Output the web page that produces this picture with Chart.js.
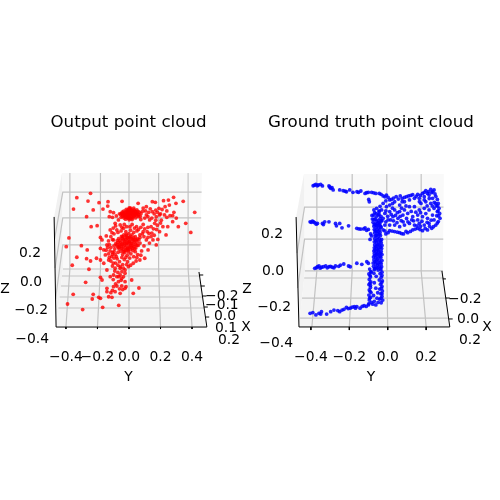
<!DOCTYPE html>
<html><head><meta charset="utf-8">
<script src="https://cdn.jsdelivr.net/npm/chart.js@4"></script>
<style>
html,body{margin:0;padding:0;background:#fff;width:500px;height:500px;overflow:hidden}
canvas{position:absolute;top:0}
</style></head><body>
<canvas id="left" width="257" height="500" style="left:0"></canvas>
<canvas id="right" width="258" height="500" style="left:242px"></canvas>
<script>
const FONT = '"DejaVu Sans", sans-serif';
const outputTitle = 'Output point cloud';
const truthTitle = 'Ground truth point cloud';

// Points: [Y, Z]
const outputSparse = [[-0.331,0.583],[-0.244,0.613],[-0.260,0.559],[-0.190,0.548],[-0.133,0.555],[-0.135,0.524],[-0.352,0.503],[-0.269,0.450],[-0.227,0.497],[-0.165,0.503],[-0.240,0.380],[-0.202,0.387],[-0.381,0.301],[-0.398,0.240],[-0.302,0.247],[-0.265,0.217],[-0.331,0.166],[-0.269,0.156],[-0.244,0.140],[-0.206,0.159],[-0.360,0.110],[-0.254,0.082],[-0.275,-0.009],[-0.354,-0.093],[-0.390,-0.161],[-0.294,-0.200],[-0.167,-0.184],[-0.065,-0.170],[-0.233,-0.126],[-0.227,-0.093],[-0.192,-0.114],[-0.181,0.026],[-0.171,0.007],[-0.181,0.228],[-0.171,0.287],[-0.181,0.305],[-0.144,0.315],[-0.119,0.357],[-0.108,0.338],[-0.088,0.403],[-0.067,0.427],[-0.119,0.485],[-0.098,0.478],[-0.044,0.557],[0.058,0.543],[0.110,0.520],[0.148,0.555],[0.167,0.550],[0.219,0.562],[0.250,0.566],[0.283,0.585],[0.298,0.543],[0.344,0.557],[0.417,0.480],[0.360,0.403],[0.313,0.380],[0.392,0.340],[0.277,0.415],[0.260,0.457],[0.225,0.462],[0.190,0.508],[0.229,0.520],[0.256,0.531],[0.277,0.457],[0.194,0.462],[0.173,0.450],[0.148,0.485],[0.110,0.462],[0.131,0.427],[0.163,0.403],[0.215,0.380],[0.246,0.380],[0.194,0.345],[0.235,0.322],[0.183,0.291],[0.173,0.252],[0.152,0.287],[0.110,0.287],[0.069,0.322],[0.090,0.345],[0.127,0.333],[0.048,0.380],[0.006,0.380],[-0.035,0.368],[-0.056,0.392],[-0.077,0.357],[-0.098,0.287],[-0.140,0.252],[-0.160,0.217],[-0.150,0.182],[-0.129,0.147],[-0.181,0.147],[-0.160,0.124],[-0.140,0.077],[-0.088,0.089],[-0.056,0.089],[-0.025,0.077],[-0.004,0.100],[0.027,0.124],[0.069,0.147],[0.100,0.159],[0.121,0.217],[-0.077,0.030],[-0.098,0.042],[-0.119,0.030],[-0.056,0.042],[-0.025,0.054],[-0.046,0.019],[-0.067,-0.005],[0.017,0.007],[-0.025,-0.005],[-0.046,-0.035],[-0.019,-0.040],[-0.077,-0.035],[-0.098,-0.040],[-0.140,-0.075],[-0.115,-0.082],[-0.088,-0.075],[-0.056,-0.086],[-0.025,-0.051],[0.027,-0.086],[0.063,-0.049],[-0.129,-0.110],[-0.108,-0.114],[-0.140,-0.051],[-0.181,-0.121],
[-0.13,0.19],[-0.11,0.17],[-0.095,0.205],[-0.075,0.155],[-0.06,0.135],[-0.04,0.115],[-0.085,0.125],[-0.105,0.105],[-0.03,0.15],[-0.01,0.135],[0.03,0.17],[0.055,0.185],[0.08,0.21],[0.095,0.245],[0.13,0.265],[0.145,0.335],[0.09,0.395],[0.12,0.375],[0.075,0.43],[0.09,0.51],[0.135,0.505],[0.17,0.495],[0.205,0.425],[0.145,0.44],[0.24,0.445],[-0.125,0.45],[-0.105,0.445],[-0.08,0.455],[-0.095,0.33],[-0.07,0.34],[-0.05,0.35],[-0.02,0.345],[0.01,0.355],[0.03,0.34],[0.05,0.35],[-0.13,0.28],[-0.145,0.215],[-0.115,0.235],[-0.07,0.06],[-0.045,0.065]];
const outputMiddle = [[0.06,0.36],[0.075,0.375],[0.1,0.365],[0.115,0.345],[0.085,0.33],[0.07,0.305],[0.095,0.31],[0.12,0.305],[0.14,0.31],[0.16,0.32],[0.175,0.36],[0.14,0.38],[0.155,0.365],[0.18,0.39],[0.2,0.405],[0.17,0.425],[0.12,0.45],[0.1,0.44],[0.16,0.47],[0.18,0.48],[0.2,0.47],[0.125,0.48],[0.105,0.49],[0.21,0.5],[0.24,0.49],[0.3,0.44],[0.285,0.48],[-0.015,0.38],[-0.03,0.395],[-0.045,0.375],[0.02,0.395],[0.035,0.37],[-0.085,0.385],[-0.1,0.37],[-0.115,0.31],[-0.105,0.29],[-0.125,0.255],[-0.135,0.235],[-0.12,0.21],[-0.105,0.185],[-0.095,0.16],[-0.08,0.17],[-0.125,0.165],[-0.115,0.14],[-0.1,0.125],[-0.07,0.11],[-0.055,0.1],[-0.035,0.09],[-0.015,0.115],[0.01,0.11],[0.045,0.14],[-0.045,0.165],[-0.02,0.165],[0.005,0.16],[0.05,0.165],[0.075,0.18],[-0.09,0.07],[-0.065,0.03],[-0.035,0.03],[-0.1,0.01],[-0.05,0.005],[-0.085,-0.02],[-0.06,-0.055],[-0.04,-0.06],[-0.105,-0.065]];
const outputUpperCluster = [[-0.052,0.465],[-0.041,0.452],[-0.043,0.481],[-0.031,0.441],[-0.029,0.466],[-0.033,0.489],[-0.022,0.432],[-0.018,0.456],[-0.021,0.477],[-0.017,0.501],[-0.009,0.443],[-0.011,0.466],[-0.007,0.487],[0.001,0.428],[-0.002,0.451],[0.003,0.471],[0.001,0.492],[0.002,0.512],[0.011,0.436],[0.009,0.461],[0.012,0.482],[0.008,0.503],[0.021,0.442],[0.019,0.469],[0.023,0.491],[0.031,0.452],[0.029,0.476],[0.033,0.497],[0.041,0.441],[0.039,0.466],[0.042,0.487],[0.051,0.456],[0.049,0.477],[0.061,0.464],[0.066,0.482],[0.076,0.471],[0.087,0.488],[0.071,0.452],
[-0.046,0.472],[-0.036,0.46],[-0.037,0.471],[-0.026,0.452],[-0.025,0.482],[-0.015,0.445],[-0.014,0.468],[-0.013,0.49],[-0.004,0.438],[-0.005,0.46],[-0.003,0.48],[-0.004,0.5],[0.005,0.445],[0.006,0.47],[0.005,0.49],[0.015,0.45],[0.015,0.475],[0.016,0.495],[0.025,0.46],[0.026,0.482],[0.035,0.46],[0.036,0.486],[0.046,0.47],[0.056,0.47],[0.06,0.45],[0.056,0.487],[0.02,0.43],[-0.05,0.445],[0.01,0.51],[0.03,0.51],[0.05,0.497],[-0.06,0.47]];
const outputLowerCluster = [[-0.084,0.262],[-0.072,0.241],[-0.074,0.282],[-0.063,0.223],[-0.061,0.258],[-0.066,0.297],[-0.052,0.207],[-0.049,0.241],[-0.053,0.272],[-0.048,0.311],[-0.038,0.222],[-0.041,0.255],[-0.036,0.288],[-0.033,0.322],[-0.027,0.201],[-0.024,0.236],[-0.029,0.267],[-0.025,0.302],[-0.014,0.218],[-0.017,0.252],[-0.012,0.281],[-0.016,0.316],[-0.003,0.203],[-0.006,0.232],[-0.002,0.263],[-0.005,0.296],[-0.001,0.331],[0.008,0.219],[0.011,0.247],[0.006,0.279],[0.009,0.312],[0.021,0.228],[0.018,0.262],[0.023,0.292],[0.019,0.323],[0.031,0.241],[0.033,0.272],[0.029,0.303],[0.043,0.231],[0.041,0.258],[0.046,0.287],[0.051,0.273],[0.058,0.249],[0.063,0.289],[-0.095,0.246],[-0.09,0.225],[-0.105,0.2],[-0.088,0.185],[-0.07,0.2],[-0.04,0.185],[-0.012,0.18],[0.012,0.19],[0.04,0.205],
[-0.078,0.252],[-0.07,0.27],[-0.058,0.245],[-0.056,0.285],[-0.046,0.228],[-0.044,0.262],[-0.043,0.298],[-0.032,0.245],[-0.03,0.278],[-0.022,0.215],[-0.02,0.262],[-0.02,0.29],[-0.01,0.228],[-0.009,0.268],[-0.01,0.305],[0.002,0.242],[0.002,0.275],[0.003,0.305],[0.014,0.235],[0.013,0.265],[0.014,0.296],[0.025,0.25],[0.027,0.28],[0.036,0.225],[0.038,0.29],[0.05,0.25],[0.054,0.295],[-0.065,0.235],[-0.035,0.205],[-0.005,0.218],[0.025,0.212],[-0.04,0.31],[-0.018,0.325],[0.04,0.31],[0.07,0.265]];
const outputPoints = outputSparse.concat(outputMiddle, outputUpperCluster, outputLowerCluster);

const truthLegs = [[-0.388,0.463],[-0.374,0.470],[-0.361,0.467],[-0.349,0.470],[-0.340,0.462],[-0.306,0.462],[-0.297,0.449],[-0.284,0.440],[-0.250,0.440],[-0.232,0.436],[-0.215,0.430],[-0.198,0.440],[-0.181,0.427],[-0.152,0.427],[-0.140,0.434],[-0.118,0.421],[-0.101,0.427],[-0.084,0.427],[-0.062,0.421],[-0.044,0.421],[-0.024,0.407],[-0.007,0.412],[-0.099,0.388],[-0.096,0.375],
[-0.381,0.466],[-0.367,0.463],[-0.302,0.456],[-0.29,0.452],[-0.222,0.433],[-0.16,0.43],[-0.11,0.425],[-0.073,0.424],[-0.035,0.416],[-0.015,0.402],
[-0.404,0.265],[-0.392,0.269],[-0.380,0.260],[-0.366,0.256],[-0.340,0.256],[-0.328,0.265],[-0.306,0.265],[-0.272,0.256],[-0.250,0.256],[-0.238,0.232],[-0.267,0.243],[-0.204,0.243],[-0.161,0.229],[-0.140,0.225],[-0.118,0.232],[-0.101,0.223],[-0.089,0.198],[-0.092,0.168],[-0.084,0.187],
[-0.398,0.262],[-0.386,0.264],[-0.372,0.252],[-0.335,0.25],[-0.15,0.226],[-0.125,0.226],[-0.11,0.218],
[-0.380,0.009],[-0.366,0.018],[-0.358,0.022],[-0.345,0.015],[-0.323,0.022],[-0.306,0.018],[-0.289,0.015],[-0.272,0.022],[-0.246,0.027],[-0.229,0.033],[-0.204,0.022],[-0.195,0.018],[-0.161,0.037],[-0.135,0.031],[-0.109,0.046],[-0.101,0.037],
[-0.372,0.012],[-0.352,0.01],[-0.335,0.018],[-0.315,0.012],[-0.298,0.02],[-0.28,0.012],[-0.255,0.02],
[-0.404,-0.238],[-0.390,-0.234],[-0.374,-0.247],[-0.358,-0.238],[-0.345,-0.229],[-0.318,-0.242],[-0.297,-0.229],[-0.280,-0.220],[-0.260,-0.223],[-0.238,-0.220],[-0.215,-0.205],[-0.195,-0.210],[-0.174,-0.201],[-0.144,-0.210],[-0.123,-0.196],[-0.101,-0.192],[-0.161,-0.201],[-0.250,-0.229],[-0.349,-0.242],
[-0.228,-0.216],[-0.206,-0.212],[-0.185,-0.204],[-0.168,-0.21],[-0.133,-0.2],[-0.112,-0.2]];
const truthSeat = [[0.002,0.399],[0.019,0.388],[0.044,0.403],[0.065,0.407],[0.087,0.399],[0.109,0.407],[0.130,0.414],[0.156,0.416],[0.181,0.421],[0.198,0.436],[0.224,0.443],[0.241,0.440],[0.246,0.418],[0.258,0.388],[0.263,0.366],[0.267,0.339],[0.270,0.311],[0.272,0.284],[0.263,0.266],[0.250,0.247],[0.229,0.229],[0.207,0.220],[0.181,0.216],[0.156,0.229],[0.130,0.220],[0.104,0.205],[0.082,0.198],[0.062,0.205],[0.036,0.211],[0.010,0.216],[-0.010,0.198],[-0.024,0.220],[-0.050,0.229],
[-0.024,0.366],[-0.007,0.348],[0.010,0.357],[0.036,0.375],[0.062,0.357],[0.087,0.375],[0.113,0.385],[0.139,0.394],[0.164,0.394],[0.190,0.403],[0.215,0.412],[0.233,0.394],[0.198,0.375],[0.173,0.366],[0.224,0.366],[0.241,0.339],[0.215,0.330],[0.190,0.339],[0.164,0.330],[0.139,0.348],[0.113,0.348],[0.087,0.330],[0.062,0.321],[0.036,0.330],[0.010,0.321],[-0.015,0.311],[-0.032,0.330],[-0.058,0.339],[-0.072,0.330],[-0.050,0.302],[-0.024,0.284],[0.002,0.275],[0.027,0.293],[0.053,0.284],[0.079,0.302],[0.104,0.311],[0.130,0.293],[0.156,0.302],[0.181,0.293],[0.207,0.284],[0.233,0.302],[0.241,0.275],[0.215,0.256],[0.190,0.247],[0.164,0.256],[0.139,0.247],[0.113,0.256],[0.087,0.247],[0.062,0.238],[0.036,0.247],[0.010,0.247],[-0.015,0.247],[-0.041,0.256],[0.250,0.366],[0.258,0.321],[0.070,0.271],[0.048,0.260],[0.156,0.275],
[0.207,0.421],[0.228,0.425],[0.216,0.393],[0.242,0.372],[0.190,0.385],[0.165,0.375],[0.252,0.352],[0.232,0.352],[0.205,0.352],[0.255,0.298],[0.226,0.274],[0.205,0.262],[0.178,0.268],[0.152,0.243],[0.125,0.275],[0.098,0.283],[0.122,0.322],[0.146,0.318],[0.171,0.315],[0.198,0.31],[0.095,0.352],[0.072,0.34],[0.05,0.315],[0.025,0.34],[0.015,0.275],
[0.01,0.385],[0.03,0.395],[0.055,0.39],[0.075,0.393],[0.098,0.403],[0.12,0.41],[0.148,0.405],[0.17,0.41],[0.19,0.427],[0.212,0.43],[0.235,0.43],[0.25,0.405],[0.26,0.352],[0.262,0.325],[0.265,0.297],[0.258,0.258],[0.238,0.238],[0.218,0.24],[0.195,0.228],[0.168,0.222],[0.143,0.225],[0.118,0.212],[0.095,0.212],[0.072,0.2],[0.05,0.208],[0.023,0.214],[0.002,0.205],[-0.015,0.215],[-0.035,0.235],[-0.06,0.245],
[-0.045,0.32],[-0.06,0.31],[-0.035,0.295],[-0.01,0.325],[0.0,0.295],[0.018,0.305],[0.04,0.3],[0.065,0.295],[-0.01,0.265],[-0.03,0.27],[0.03,0.27],[0.08,0.265],[0.105,0.265],[0.135,0.27],[0.17,0.24],[0.075,0.375],[0.025,0.365],[-0.01,0.38],[-0.04,0.35]];
const truthColumn = [[-0.074,0.302],[-0.06,0.292],[-0.045,0.305],[-0.072,0.278],[-0.058,0.268],[-0.04,0.282],[-0.076,0.262],[-0.064,0.251],[-0.046,0.26],[-0.034,0.27],[-0.072,0.24],[-0.06,0.232],[-0.05,0.244],[-0.036,0.238],[-0.07,0.222],[-0.058,0.214],[-0.042,0.22],[-0.068,0.204],[-0.054,0.198],[-0.04,0.206],[-0.066,0.188],[-0.052,0.18],[-0.038,0.19],[-0.068,0.172],[-0.056,0.165],[-0.044,0.172],[-0.032,0.168],[-0.07,0.155],[-0.058,0.148],[-0.046,0.155],[-0.034,0.15],[-0.068,0.138],[-0.056,0.132],[-0.042,0.138],[-0.03,0.135],[-0.07,0.122],[-0.058,0.116],[-0.046,0.122],[-0.032,0.118],[-0.072,0.105],[-0.06,0.1],[-0.048,0.105],[-0.034,0.102],[-0.07,0.09],[-0.058,0.084],[-0.044,0.088],[-0.03,0.085],[-0.074,0.072],[-0.062,0.067],[-0.05,0.072],[-0.036,0.069],[-0.072,0.055],[-0.058,0.05],[-0.044,0.054],[-0.03,0.052],[-0.076,0.038],[-0.064,0.033],[-0.05,0.037],[-0.034,0.035],[-0.074,0.02],[-0.06,0.016],[-0.044,0.02],[-0.032,0.018],
[-0.065,0.28],[-0.05,0.272],[-0.07,0.25],[-0.055,0.255],[-0.042,0.245],[-0.065,0.215],[-0.05,0.212],[-0.06,0.19],[-0.045,0.195],[-0.062,0.16],[-0.05,0.14],[-0.038,0.16],[-0.062,0.128],[-0.05,0.11],[-0.038,0.125],[-0.066,0.11],[-0.055,0.09],[-0.038,0.092],[-0.066,0.08],[-0.055,0.06],[-0.04,0.075],[-0.066,0.045],[-0.052,0.028],[-0.04,0.04],[-0.068,0.008],[-0.055,0.01],[-0.038,0.01],[-0.08,0.28],[-0.082,0.3],[-0.068,0.315],[-0.045,0.325],
[-0.094,0.005],[-0.086,-0.01],[-0.098,-0.022],[-0.09,-0.038],[-0.096,-0.052],[-0.088,-0.066],[-0.098,-0.08],[-0.09,-0.096],[-0.096,-0.11],[-0.087,-0.124],[-0.098,-0.138],[-0.09,-0.15],[-0.096,-0.165],[-0.085,-0.178],[-0.098,-0.185],
[-0.092,-0.03],[-0.093,-0.072],[-0.092,-0.118],[-0.094,-0.155],[-0.088,-0.012],[-0.09,-0.085],
[-0.07,0.002],[-0.05,0.0],[-0.036,0.002],[-0.072,-0.018],[-0.04,-0.02],[-0.03,-0.012],[-0.06,-0.035],[-0.034,-0.04],[-0.044,-0.055],[-0.028,-0.06],[-0.07,-0.07],[-0.038,-0.078],[-0.03,-0.09],[-0.062,-0.1],[-0.042,-0.105],[-0.028,-0.115],[-0.052,-0.125],[-0.036,-0.13],[-0.074,-0.14],[-0.03,-0.145],[-0.056,-0.155],[-0.042,-0.16],[-0.026,-0.165],[-0.07,-0.172],[-0.05,-0.178],[-0.034,-0.18],[-0.078,-0.188],[-0.062,-0.192],
[-0.03,-0.03],[-0.032,-0.07],[-0.033,-0.1],[-0.03,-0.13],[-0.035,-0.155]];
const truthPoints = truthLegs.concat(truthSeat, truthColumn);

// Axis ticks
const outputYTicks = [-0.4,-0.2,0,0.2,0.4];
const truthYTicks = [-0.4,-0.2,0,0.2];
const outputZTicks = [0.2,0,-0.2,-0.4];
const truthZTicks = [0.2,0,-0.2,-0.4];
const outputZRight = [41,42,48,49];
const truthZRight = [41,42,49,51];
const outputXTicks = ['\u22120.2','\u22120.1','0.0','0.1','0.2'];
const outputXTickLeft = [205,205,214,215,218];
const outputXTickMid = [295,304,315,327,339];
const truthXTicks = ['\u22120.2','0.0','0.2'];
const truthXTickLeft = [206,215,217];
const truthXTickMid = [298,318,339];

// Box drawing in data units [Y, Z]
const GAP = [null,null];
const outputBack = [[-0.425,0.755],[0.4625,0.755],[0.45,0.084],[-0.419,0.084],[-0.425,0.755]];
const outputFloor = [[-0.419,0.084],[0.45,0.084],[0.4875,-0.322],[-0.4625,-0.322],[-0.419,0.084]];
const outputWall = [[-0.425,0.755],[-0.475,0.448],[-0.4625,-0.322],[-0.419,0.084],[-0.425,0.755]];
const outputGrid = [[-0.375,0.755],[-0.375,0.084],[-0.40,-0.322],GAP,[-0.181,0.755],[-0.181,0.084],[-0.20,-0.322],GAP,[0,0.755],[0,0.084],[0,-0.322],GAP,[0.188,0.755],[0.188,0.084],[0.2,-0.322],GAP,[0.375,0.755],[0.375,0.084],[0.4,-0.322],GAP,
[-0.472,0.294],[-0.42,0.622],[0.4605,0.622],GAP,[-0.469,0.091],[-0.42,0.441],[0.458,0.441],GAP,[-0.466,-0.126],[-0.42,0.252],[0.455,0.252],GAP,[-0.419,0.084],[0.45,0.084],GAP,
[-0.425,0.035],[0.454,0.035],GAP,[-0.431,-0.035],[0.461,-0.035],GAP,[-0.44,-0.112],[0.468,-0.112],GAP,[-0.448,-0.189],[0.475,-0.189]];
const outputAxes = [[-0.475,0.448],[-0.4625,-0.322],[0.494,-0.322],[0.444,0.063],GAP,
[0.446,0.042],[0.471,0.042],GAP,[0.456,-0.035],[0.481,-0.035],GAP,[0.466,-0.105],[0.491,-0.105],GAP,[0.475,-0.182],[0.5,-0.182],GAP,[0.484,-0.252],[0.509,-0.252],GAP,
[-0.4,-0.322],[-0.4,-0.336],GAP,[-0.2,-0.322],[-0.2,-0.336],GAP,[0,-0.322],[0,-0.336],GAP,[0.2,-0.322],[0.2,-0.336],GAP,[0.4,-0.322],[0.4,-0.336]];

const truthBack = [[-0.436,0.527],[0.292,0.527],[0.287,-0.005],[-0.431,-0.005],[-0.436,0.527]];
const truthFloor = [[-0.431,-0.005],[0.287,-0.005],[0.323,-0.313],[-0.462,-0.313],[-0.431,-0.005]];
const truthWall = [[-0.436,0.527],[-0.477,0.291],[-0.462,-0.313],[-0.431,-0.005],[-0.436,0.527]];
const truthGrid = [[-0.369,0.527],[-0.369,-0.005],[-0.395,-0.313],GAP,[-0.185,0.527],[-0.185,-0.005],[-0.2,-0.313],GAP,[-0.005,0.527],[-0.005,-0.005],[0,-0.313],GAP,[0.174,0.527],[0.174,-0.005],[0.2,-0.313],GAP,
[-0.472,0.093],[-0.433,0.346],[0.29,0.346],GAP,[-0.469,-0.099],[-0.433,0.170],[0.289,0.170],GAP,[-0.431,-0.005],[0.287,-0.005],GAP,
[-0.435,-0.044],[0.295,-0.044],GAP,[-0.446,-0.154],[0.308,-0.154],GAP,[-0.456,-0.264],[0.318,-0.264]];
const truthAxes = [[-0.477,0.291],[-0.462,-0.313],[0.323,-0.313],[0.282,-0.005],GAP,
[0.287,-0.049],[0.303,-0.049],GAP,[0.303,-0.154],[0.323,-0.154],GAP,[0.318,-0.269],[0.338,-0.269],GAP,
[-0.4,-0.313],[-0.4,-0.33],GAP,[-0.2,-0.313],[-0.2,-0.33],GAP,[0,-0.313],[0,-0.33],GAP,[0.2,-0.313],[0.2,-0.33]];

const xy = a => a.map(p => ({x:p[0], y:p[1]}));
const shape = (pts, color) => ({data:xy(pts), showLine:true, pointRadius:0, borderWidth:0, borderColor:color, backgroundColor:color, fill:'shape', tension:0, order:5, clip:false});
const lines = (pts, color, w, order) => ({data:xy(pts), showLine:true, pointRadius:0, borderWidth:w, borderColor:color, backgroundColor:color, fill:false, tension:0, spanGaps:false, order:order, clip:false});

const axisText = {
  id:'axisText',
  afterDatasetsDraw(chart, args, o){
    const c = chart.ctx, ys = chart.scales.y;
    c.save();
    c.fillStyle = '#000';
    c.font = '13.89px ' + FONT;
    c.textBaseline = 'middle';
    c.textAlign = 'right';
    o.zTicks.forEach((v,i)=>{ c.fillText(v.toFixed(1).replace('-','\u2212'), o.zRight[i], ys.getPixelForValue(v) + 1); });
    c.textAlign = 'left';
    o.xTicks.forEach((t,i)=>{ c.fillText(t, o.xLeft[i], o.xMid[i] + 1); });
    c.textAlign = 'center';
    c.fillText('Z', o.zLabel[0], o.zLabel[1] + 1);
    c.fillText('X', o.xLabel[0], o.xLabel[1] + 1);
    c.restore();
  }
};

function build(id, cfg){
  new Chart(document.getElementById(id), {
    type:'scatter',
    data:{datasets:[
      shape(cfg.back,'#f9f9f9'), shape(cfg.floor,'#f4f4f4'), shape(cfg.wall,'#f1f1f1'),
      lines(cfg.grid,'#c2c2c2',1.2,4),
      lines(cfg.axes,'#000000',1,3),
      {data:xy(cfg.points), pointRadius:1.9, pointHoverRadius:1.9, borderWidth:0, backgroundColor:cfg.color, showLine:false, order:1, clip:false}
    ]},
    options:{
      responsive:false, animation:false, devicePixelRatio:1,
      layout:{padding:0},
      events:[],
      plugins:{
        legend:{display:false}, tooltip:{enabled:false},
        title:{display:true, text:cfg.title, color:'#000', font:{family:FONT,size:16.67,weight:'normal',lineHeight:1.2}, padding:{top:113,bottom:37}},
        axisText:cfg.text
      },
      scales:{
        x:{type:'linear', min:cfg.xr[0], max:cfg.xr[1],
           grid:{display:false, drawTicks:false}, border:{display:false},
           afterBuildTicks:s=>{ s.ticks = cfg.yTicks.map(v=>({value:v})); },
           afterFit:s=>{ s.height = 155; },
           ticks:{autoSkip:false, maxRotation:0, padding:4, color:'#000', font:{family:FONT,size:13.89},
                  callback:v=>Number(v).toFixed(1).replace('-','\u2212')},
           title:{display:true, text:'Y', color:'#000', font:{family:FONT,size:13.89}, padding:{top:0,bottom:114}}},
        y:{type:'linear', display:false, min:cfg.yr[0], max:cfg.yr[1]}
      }
    },
    plugins:[axisText]
  });
}

build('left',{title:outputTitle, points:outputPoints, color:'rgba(255,0,0,0.8)',
  back:outputBack, floor:outputFloor, wall:outputWall, grid:outputGrid, axes:outputAxes, yTicks:outputYTicks,
  xr:[-0.80625,0.8], yr:[-0.4476,0.7762],
  text:{zTicks:outputZTicks, zRight:outputZRight, xTicks:outputXTicks, xLeft:outputXTickLeft, xMid:outputXTickMid, zLabel:[5,288], xLabel:[246,326]}});
build('right',{title:truthTitle, points:truthPoints, color:'rgba(0,0,255,0.85)',
  back:truthBack, floor:truthFloor, wall:truthWall, grid:truthGrid, axes:truthAxes, yTicks:truthYTicks,
  xr:[-0.7487,0.5744], yr:[-0.4121,0.5495],
  text:{zTicks:truthZTicks, zRight:truthZRight, xTicks:truthXTicks, xLeft:truthXTickLeft, xMid:truthXTickMid, zLabel:[5,288], xLabel:[245,326]}});
</script>
</body></html>
